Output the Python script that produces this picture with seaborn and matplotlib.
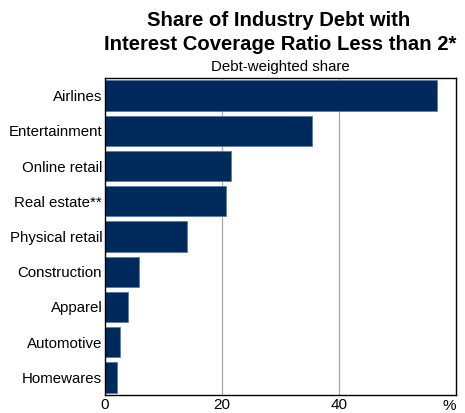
import matplotlib
matplotlib.use("Agg")
import matplotlib.pyplot as plt
import seaborn as sns
import pandas as pd
from matplotlib.ticker import FixedLocator

industries = ["Airlines", "Entertainment", "Online retail", "Real estate**",
              "Physical retail", "Construction", "Apparel", "Automotive", "Homewares"]
shares = [56.7, 35.3, 21.6, 20.6, 14.1, 5.8, 4.0, 2.5, 2.1]
xticks = [0, 20, 40]

df = pd.DataFrame({"industry": industries, "share": shares})

sns.set_theme(style="white")
plt.rcParams["font.family"] = ["Liberation Sans", "DejaVu Sans"]
plt.rcParams["text.color"] = "black"
plt.rcParams["xtick.labelcolor"] = "black"
plt.rcParams["ytick.labelcolor"] = "black"

fig = plt.figure(figsize=(4.65, 4.13), dpi=100)
top, bottom, left, right = 78, 395, 105, 456
ax = fig.add_axes([left/465, 1 - bottom/413, (right-left)/465, (bottom-top)/413])

for x in [20, 40]:
    ax.axvline(x, color="#A8A8A8", linewidth=0.9, zorder=0)

sns.barplot(data=df, x="share", y="industry", color="#002A5C", orient="h",
            width=0.86, edgecolor="#5A7AA5", linewidth=0.6, ax=ax, saturation=1)

ax.set_xlim(0, 60)
ax.set_ylim(len(industries) - 0.5, -0.5)
ax.set_xticks(xticks)
ax.set_xticklabels([str(t) for t in xticks], fontsize=11)
ax.text(60, -0.012, "%", transform=ax.get_xaxis_transform(), ha="right", va="top", fontsize=11)
ax.tick_params(axis="x", length=0, pad=2.5)
ax.tick_params(axis="y", which="major", length=0, labelsize=10.8, pad=2)
ax.yaxis.set_minor_locator(FixedLocator([i + 0.5 for i in range(len(industries) - 1)]))
ax.tick_params(axis="y", which="minor", direction="in", length=5, width=1, color="black")
ax.set_xlabel("")
ax.set_ylabel("")
for s in ax.spines.values():
    s.set_color("black")
    s.set_linewidth(1.0)

fig.text(279/465, 1 - 20/413, "Share of Industry Debt with", ha="center", va="center",
         fontsize=14.6, fontweight="bold")
fig.text(280/465, 1 - 45/413, "Interest Coverage Ratio Less than 2*", ha="center", va="center",
         fontsize=14.6, fontweight="bold")
fig.text((left + right) / 2 / 465, 1 - 67/413, "Debt-weighted share", ha="center", va="center",
         fontsize=10.8)

fig.savefig("out.png", dpi=100)
